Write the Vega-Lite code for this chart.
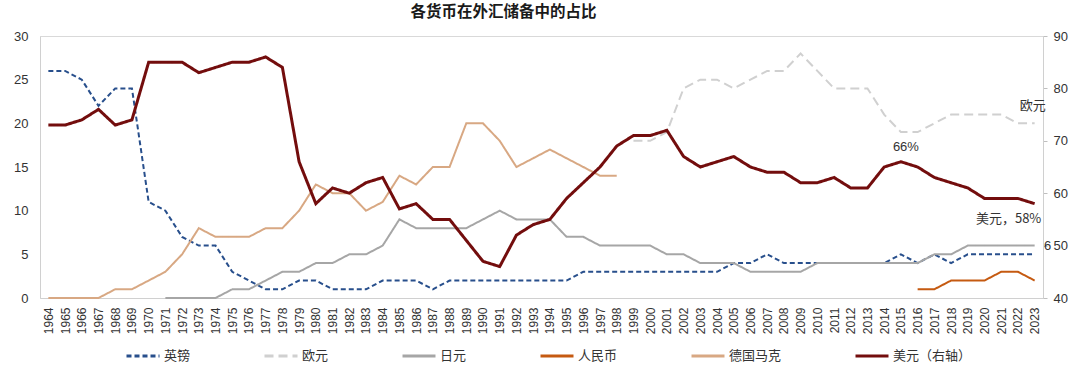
{
  "$schema": "https://vega.github.io/schema/vega-lite/v6.json",
  "width": 1003,
  "height": 262,
  "autosize": "none",
  "padding": {"left": 40, "top": 36, "right": 37, "bottom": 68},
  "background": "white",
  "title": {"text": "各货币在外汇储备中的占比", "font": "Noto Sans CJK SC", "fontSize": 15.5, "fontWeight": "bold", "color": "#1a1a1a", "anchor": "middle", "dx": -38, "offset": 10},
  "config": {
    "view": {"stroke": "#d9d9d9", "strokeWidth": 1},
    "axis": {"labelFont": "Liberation Sans", "labelFontSize": 13, "labelColor": "#333333", "domainColor": "#d0d0d0", "tickColor": "#bfbfbf", "grid": false, "title": null}
  },
  "data": {"values": [
    {"year": 1964, "英镑": 26, "欧元": null, "日元": null, "人民币": null, "德国马克": 0, "美元": 73},
    {"year": 1965, "英镑": 26, "欧元": null, "日元": null, "人民币": null, "德国马克": 0, "美元": 73},
    {"year": 1966, "英镑": 25, "欧元": null, "日元": null, "人民币": null, "德国马克": 0, "美元": 74},
    {"year": 1967, "英镑": 22, "欧元": null, "日元": null, "人民币": null, "德国马克": 0, "美元": 76},
    {"year": 1968, "英镑": 24, "欧元": null, "日元": null, "人民币": null, "德国马克": 1, "美元": 73},
    {"year": 1969, "英镑": 24, "欧元": null, "日元": null, "人民币": null, "德国马克": 1, "美元": 74},
    {"year": 1970, "英镑": 11, "欧元": null, "日元": null, "人民币": null, "德国马克": 2, "美元": 85},
    {"year": 1971, "英镑": 10, "欧元": null, "日元": 0, "人民币": null, "德国马克": 3, "美元": 85},
    {"year": 1972, "英镑": 7, "欧元": null, "日元": 0, "人民币": null, "德国马克": 5, "美元": 85},
    {"year": 1973, "英镑": 6, "欧元": null, "日元": 0, "人民币": null, "德国马克": 8, "美元": 83},
    {"year": 1974, "英镑": 6, "欧元": null, "日元": 0, "人民币": null, "德国马克": 7, "美元": 84},
    {"year": 1975, "英镑": 3, "欧元": null, "日元": 1, "人民币": null, "德国马克": 7, "美元": 85},
    {"year": 1976, "英镑": 2, "欧元": null, "日元": 1, "人民币": null, "德国马克": 7, "美元": 85},
    {"year": 1977, "英镑": 1, "欧元": null, "日元": 2, "人民币": null, "德国马克": 8, "美元": 86},
    {"year": 1978, "英镑": 1, "欧元": null, "日元": 3, "人民币": null, "德国马克": 8, "美元": 84},
    {"year": 1979, "英镑": 2, "欧元": null, "日元": 3, "人民币": null, "德国马克": 10, "美元": 66},
    {"year": 1980, "英镑": 2, "欧元": null, "日元": 4, "人民币": null, "德国马克": 13, "美元": 58},
    {"year": 1981, "英镑": 1, "欧元": null, "日元": 4, "人民币": null, "德国马克": 12, "美元": 61},
    {"year": 1982, "英镑": 1, "欧元": null, "日元": 5, "人民币": null, "德国马克": 12, "美元": 60},
    {"year": 1983, "英镑": 1, "欧元": null, "日元": 5, "人民币": null, "德国马克": 10, "美元": 62},
    {"year": 1984, "英镑": 2, "欧元": null, "日元": 6, "人民币": null, "德国马克": 11, "美元": 63},
    {"year": 1985, "英镑": 2, "欧元": null, "日元": 9, "人民币": null, "德国马克": 14, "美元": 57},
    {"year": 1986, "英镑": 2, "欧元": null, "日元": 8, "人民币": null, "德国马克": 13, "美元": 58},
    {"year": 1987, "英镑": 1, "欧元": null, "日元": 8, "人民币": null, "德国马克": 15, "美元": 55},
    {"year": 1988, "英镑": 2, "欧元": null, "日元": 8, "人民币": null, "德国马克": 15, "美元": 55},
    {"year": 1989, "英镑": 2, "欧元": null, "日元": 8, "人民币": null, "德国马克": 20, "美元": 51},
    {"year": 1990, "英镑": 2, "欧元": null, "日元": 9, "人民币": null, "德国马克": 20, "美元": 47},
    {"year": 1991, "英镑": 2, "欧元": null, "日元": 10, "人民币": null, "德国马克": 18, "美元": 46},
    {"year": 1992, "英镑": 2, "欧元": null, "日元": 9, "人民币": null, "德国马克": 15, "美元": 52},
    {"year": 1993, "英镑": 2, "欧元": null, "日元": 9, "人民币": null, "德国马克": 16, "美元": 54},
    {"year": 1994, "英镑": 2, "欧元": null, "日元": 9, "人民币": null, "德国马克": 17, "美元": 55},
    {"year": 1995, "英镑": 2, "欧元": null, "日元": 7, "人民币": null, "德国马克": 16, "美元": 59},
    {"year": 1996, "英镑": 3, "欧元": null, "日元": 7, "人民币": null, "德国马克": 15, "美元": 62},
    {"year": 1997, "英镑": 3, "欧元": null, "日元": 6, "人民币": null, "德国马克": 14, "美元": 65},
    {"year": 1998, "英镑": 3, "欧元": null, "日元": 6, "人民币": null, "德国马克": 14, "美元": 69},
    {"year": 1999, "英镑": 3, "欧元": 18, "日元": 6, "人民币": null, "德国马克": null, "美元": 71},
    {"year": 2000, "英镑": 3, "欧元": 18, "日元": 6, "人民币": null, "德国马克": null, "美元": 71},
    {"year": 2001, "英镑": 3, "欧元": 19, "日元": 5, "人民币": null, "德国马克": null, "美元": 72},
    {"year": 2002, "英镑": 3, "欧元": 24, "日元": 5, "人民币": null, "德国马克": null, "美元": 67},
    {"year": 2003, "英镑": 3, "欧元": 25, "日元": 4, "人民币": null, "德国马克": null, "美元": 65},
    {"year": 2004, "英镑": 3, "欧元": 25, "日元": 4, "人民币": null, "德国马克": null, "美元": 66},
    {"year": 2005, "英镑": 4, "欧元": 24, "日元": 4, "人民币": null, "德国马克": null, "美元": 67},
    {"year": 2006, "英镑": 4, "欧元": 25, "日元": 3, "人民币": null, "德国马克": null, "美元": 65},
    {"year": 2007, "英镑": 5, "欧元": 26, "日元": 3, "人民币": null, "德国马克": null, "美元": 64},
    {"year": 2008, "英镑": 4, "欧元": 26, "日元": 3, "人民币": null, "德国马克": null, "美元": 64},
    {"year": 2009, "英镑": 4, "欧元": 28, "日元": 3, "人民币": null, "德国马克": null, "美元": 62},
    {"year": 2010, "英镑": 4, "欧元": 26, "日元": 4, "人民币": null, "德国马克": null, "美元": 62},
    {"year": 2011, "英镑": 4, "欧元": 24, "日元": 4, "人民币": null, "德国马克": null, "美元": 63},
    {"year": 2012, "英镑": 4, "欧元": 24, "日元": 4, "人民币": null, "德国马克": null, "美元": 61},
    {"year": 2013, "英镑": 4, "欧元": 24, "日元": 4, "人民币": null, "德国马克": null, "美元": 61},
    {"year": 2014, "英镑": 4, "欧元": 21, "日元": 4, "人民币": null, "德国马克": null, "美元": 65},
    {"year": 2015, "英镑": 5, "欧元": 19, "日元": 4, "人民币": null, "德国马克": null, "美元": 66},
    {"year": 2016, "英镑": 4, "欧元": 19, "日元": 4, "人民币": 1, "德国马克": null, "美元": 65},
    {"year": 2017, "英镑": 5, "欧元": 20, "日元": 5, "人民币": 1, "德国马克": null, "美元": 63},
    {"year": 2018, "英镑": 4, "欧元": 21, "日元": 5, "人民币": 2, "德国马克": null, "美元": 62},
    {"year": 2019, "英镑": 5, "欧元": 21, "日元": 6, "人民币": 2, "德国马克": null, "美元": 61},
    {"year": 2020, "英镑": 5, "欧元": 21, "日元": 6, "人民币": 2, "德国马克": null, "美元": 59},
    {"year": 2021, "英镑": 5, "欧元": 21, "日元": 6, "人民币": 3, "德国马克": null, "美元": 59},
    {"year": 2022, "英镑": 5, "欧元": 20, "日元": 6, "人民币": 3, "德国马克": null, "美元": 59},
    {"year": 2023, "英镑": 5, "欧元": 20, "日元": 6, "人民币": 2, "德国马克": null, "美元": 58}
  ]},
  "encoding": {
    "x": {"field": "year", "type": "ordinal", "scale": {"paddingOuter": 0.5},
      "axis": {"labelAngle": -90, "labelFontSize": 12, "ticks": false, "labelPadding": 9, "domainColor": "#d0d0d0"}}
  },
  "layer": [
    {
      "layer": [
        {
          "transform": [{"fold": ["英镑", "欧元", "日元", "人民币", "德国马克"], "as": ["currency", "value"]}],
          "mark": {"type": "line", "strokeWidth": 2},
          "encoding": {
            "y": {"field": "value", "type": "quantitative", "scale": {"domain": [0, 30]},
              "axis": {"orient": "left", "values": [0, 5, 10, 15, 20, 25, 30], "ticks": false, "labelPadding": 12}},
            "color": {"field": "currency", "type": "nominal",
              "scale": {"domain": ["英镑", "欧元", "日元", "人民币", "德国马克", "美元（右轴）"], "range": ["#284f8c", "#d0d0d0", "#a6a6a6", "#c55a11", "#d8a883", "#730d0d"]},
              "legend": {"title": null, "orient": "none", "legendX": 85, "legendY": 302, "direction": "horizontal", "symbolType": "stroke", "symbolSize": 1089, "symbolStrokeWidth": 3, "labelFont": "Noto Sans CJK SC", "labelFontSize": 13, "labelColor": "#333333", "labelOffset": 3, "columnPadding": 67}},
            "strokeDash": {"field": "currency", "type": "nominal",
              "scale": {"domain": ["英镑", "欧元", "日元", "人民币", "德国马克", "美元（右轴）"], "range": [[5, 3], [9, 5], [1, 0], [1, 0], [1, 0], [1, 0]]},
              "legend": {"title": null, "orient": "none", "legendX": 85, "legendY": 302, "direction": "horizontal", "symbolType": "stroke", "symbolSize": 1089, "symbolStrokeWidth": 3, "labelFont": "Noto Sans CJK SC", "labelFontSize": 13, "labelColor": "#333333", "labelOffset": 3, "columnPadding": 67}}
          }
        },
        {
          "transform": [{"filter": "datum.year == 2023"}],
          "mark": {"type": "text", "text": "欧元", "font": "Noto Sans CJK SC", "fontSize": 13, "color": "#333333", "dx": -2, "dy": -17},
          "encoding": {"y": {"field": "欧元", "type": "quantitative"}}
        },
        {
          "transform": [{"filter": "datum.year == 2023"}],
          "mark": {"type": "text", "text": "6", "font": "Liberation Sans", "fontSize": 13, "color": "#333333", "dx": 13},
          "encoding": {"y": {"field": "日元", "type": "quantitative"}}
        }
      ]
    },
    {
      "layer": [
        {
          "mark": {"type": "line", "strokeWidth": 3},
          "encoding": {
            "y": {"field": "美元", "type": "quantitative", "scale": {"domain": [40, 90]},
              "axis": {"orient": "right", "values": [40, 45, 50, 55, 60, 65, 70, 75, 80, 85, 90], "ticks": true, "tickSize": 4, "labelPadding": 6}},
            "color": {"datum": "美元（右轴）"},
            "strokeDash": {"datum": "美元（右轴）"}
          }
        },
        {
          "transform": [{"filter": "datum.year == 2015"}],
          "mark": {"type": "text", "text": "66%", "font": "Liberation Sans", "fontSize": 13, "color": "#333333", "dx": 5, "dy": -15},
          "encoding": {"y": {"field": "美元", "type": "quantitative"}}
        },
        {
          "transform": [{"filter": "datum.year == 2023"}],
          "mark": {"type": "text", "text": "美元，58%", "font": "Noto Sans CJK SC", "fontSize": 13, "color": "#333333", "dx": -26, "dy": 15},
          "encoding": {"y": {"field": "美元", "type": "quantitative"}}
        }
      ]
    }
  ],
  "resolve": {"scale": {"y": "independent"}}
}
